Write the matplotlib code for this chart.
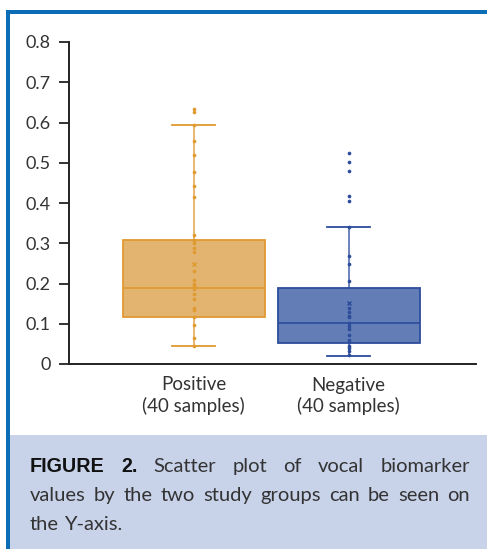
import matplotlib
matplotlib.use("Agg")
import matplotlib.pyplot as plt
from matplotlib.patches import Rectangle

# ---------------- data ----------------
groups = ["Positive\n(40 samples)", "Negative\n(40 samples)"]
positions = [1, 2]

pos_points = [0.633, 0.627, 0.593, 0.553, 0.519, 0.476, 0.441, 0.414, 0.321, 0.309,
              0.300, 0.288, 0.279, 0.231, 0.208, 0.199, 0.194, 0.187, 0.174, 0.162,
              0.140, 0.134, 0.118, 0.096, 0.065, 0.045]
neg_points = [0.524, 0.501, 0.479, 0.417, 0.404, 0.340, 0.269, 0.249, 0.206, 0.138,
              0.128, 0.120, 0.116, 0.101, 0.095, 0.088, 0.072, 0.060, 0.055, 0.045,
              0.039, 0.032, 0.022]

pos_stats = dict(whislo=0.045, q1=0.117, med=0.190, q3=0.307, whishi=0.593, mean=0.248)
neg_stats = dict(whislo=0.021, q1=0.053, med=0.103, q3=0.190, whishi=0.340, mean=0.152)

yticks = [0, 0.1, 0.2, 0.3, 0.4, 0.5, 0.6, 0.7, 0.8]
ytick_labels = ["0", "0.1", "0.2", "0.3", "0.4", "0.5", "0.6", "0.7", "0.8"]

caption_lines = [
    [("FIGURE", True), ("2.", True), ("Scatter", False), ("plot", False), ("of", False),
     ("vocal", False), ("biomarker", False)],
    [(w, False) for w in "values by the two study groups can be seen on".split()],
    [(w, False) for w in "the Y-axis.".split()],
]

# ---------------- style ----------------
fills = ["#E2B46F", "#637EB6"]
edges = ["#E09A30", "#2C4C9C"]
W, H = 487, 549
fig = plt.figure(figsize=(W / 100, H / 100), dpi=100)
fig.patch.set_facecolor("white")

FONT = "Lato"

def px(x, y):
    return x / W, 1 - y / H

# frame and caption band
fig.add_artist(Rectangle(px(9.5, 549), (487 - 9.5) / W, (549 - 435) / H,
                         transform=fig.transFigure, facecolor="#C8D3EA", edgecolor="none", zorder=0))
fig.add_artist(Rectangle(px(6, 549), 3.5 / W, (549 - 10) / H,
                         transform=fig.transFigure, facecolor="#0A6DB5", edgecolor="none", zorder=1))
fig.add_artist(Rectangle(px(6, 14), (487 - 6) / W, 4 / H,
                         transform=fig.transFigure, facecolor="#0A6DB5", edgecolor="none", zorder=1))

left, right = 68.7, 476
bottom, top = 364, 42
ax = fig.add_axes([left / W, 1 - bottom / H, (right - left) / W, (bottom - top) / H])
ax.set_facecolor("none")

bp = ax.bxp([pos_stats, neg_stats], positions=positions, widths=0.916, capwidths=0.277,
            patch_artist=True, showmeans=True, showfliers=False, meanline=False)
for i in range(2):
    bp["boxes"][i].set(facecolor=fills[i], edgecolor=edges[i], linewidth=1.3, zorder=2)
    bp["medians"][i].set(color=edges[i], linewidth=1.2, zorder=3)
    bp["means"][i].set(marker="x", markeredgecolor=edges[i], markerfacecolor=edges[i],
                       markersize=3.5, markeredgewidth=1.0, zorder=4)
    for w in bp["whiskers"][2 * i:2 * i + 2]:
        w.set(color=edges[i], linewidth=1.3, alpha=0.75, zorder=1.5)
    for c in bp["caps"][2 * i:2 * i + 2]:
        c.set(color=edges[i], linewidth=1.3, zorder=1.5)

ax.scatter([positions[0]] * len(pos_points), pos_points, s=7, color=edges[0], zorder=5, linewidths=0)
ax.scatter([positions[1]] * len(neg_points), neg_points, s=7, color=edges[1], zorder=5, linewidths=0)

ax.set_xlim(0.194, 2.821)
ax.set_ylim(0, 0.8)
ax.set_yticks(yticks)
ax.set_yticklabels(ytick_labels, fontfamily=FONT, fontsize=13, color="#333333")
ax.set_xticks(positions)
ax.set_xticklabels(groups, fontfamily=FONT, fontsize=13.5, color="#333333", linespacing=1.2)
ax.tick_params(axis="y", length=7, width=1.3, color="#222222", pad=6)
ax.tick_params(axis="x", length=0, pad=9)
for s in ["top", "right"]:
    ax.spines[s].set_visible(False)
for s in ["left", "bottom"]:
    ax.spines[s].set_linewidth(1.4)
    ax.spines[s].set_color("#222222")

# ---------------- justified caption ----------------
renderer = fig.canvas.get_renderer()
cap_left, cap_right = 30, 470
baselines = [472, 501, 530]
fs = 14.5
for li, words in enumerate(caption_lines):
    texts = []
    for w, bold in words:
        if bold:
            t = fig.text(0, 0, w, fontfamily="Liberation Sans", fontweight="bold", fontsize=fs - 0.3,
                         color="#111111", va="baseline", ha="left")
        else:
            t = fig.text(0, 0, w, fontfamily=FONT, fontsize=fs, color="#333333",
                         va="baseline", ha="left")
        texts.append(t)
    widths = [t.get_window_extent(renderer).width for t in texts]
    if li < len(caption_lines) - 1 and len(texts) > 1:
        gap = (cap_right - cap_left - sum(widths)) / (len(texts) - 1)
    else:
        sp = fig.text(0, 0, "a a", fontfamily=FONT, fontsize=fs)
        sp2 = fig.text(0, 0, "aa", fontfamily=FONT, fontsize=fs)
        gap = sp.get_window_extent(renderer).width - sp2.get_window_extent(renderer).width
        sp.remove(); sp2.remove()
    x = cap_left
    for t, w in zip(texts, widths):
        t.set_position(px(x, baselines[li]))
        x += w + gap

fig.savefig("out.png", dpi=100, facecolor="white")
